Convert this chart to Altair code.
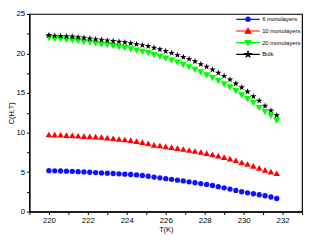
import altair as alt
import pandas as pd

T = [220.0, 220.3, 220.6, 220.9, 221.2, 221.5, 221.8, 222.1, 222.4, 222.7,
     223.0, 223.3, 223.6, 223.9, 224.2, 224.5, 224.8, 225.1, 225.4, 225.7,
     226.0, 226.3, 226.6, 226.9, 227.2, 227.5, 227.8, 228.1, 228.4, 228.7,
     229.0, 229.3, 229.6, 229.9, 230.2, 230.5, 230.8, 231.1, 231.4, 231.7]

mono6 = [5.18, 5.16, 5.14, 5.12, 5.10, 5.06, 5.02, 4.98, 4.94, 4.90,
         4.86, 4.82, 4.78, 4.74, 4.70, 4.64, 4.57, 4.47, 4.37, 4.27,
         4.17, 4.08, 3.98, 3.88, 3.77, 3.66, 3.55, 3.44, 3.31, 3.16,
         3.01, 2.85, 2.68, 2.51, 2.38, 2.26, 2.14, 2.01, 1.85, 1.66]

mono10 = [9.76, 9.74, 9.72, 9.68, 9.64, 9.60, 9.56, 9.52, 9.48, 9.44,
          9.36, 9.28, 9.20, 9.12, 9.04, 8.92, 8.80, 8.64, 8.45, 8.36,
          8.26, 8.15, 8.04, 7.92, 7.80, 7.67, 7.54, 7.40, 7.25, 7.08,
          6.90, 6.70, 6.48, 6.25, 6.02, 5.78, 5.54, 5.29, 5.06, 4.85]

mono20 = [21.93, 21.85, 21.81, 21.73, 21.65, 21.57, 21.45, 21.37, 21.25, 21.13,
          21.05, 20.93, 20.81, 20.69, 20.53, 20.36, 20.20, 20.05, 19.80, 19.60,
          19.35, 19.10, 18.85, 18.55, 18.25, 17.92, 17.60, 17.24, 16.88, 16.51,
          16.11, 15.71, 15.23, 14.71, 14.23, 13.71, 13.10, 12.58, 12.10, 11.49]

bulk = [22.33, 22.25, 22.21, 22.17, 22.13, 22.05, 21.97, 21.89, 21.81, 21.73,
        21.65, 21.57, 21.49, 21.41, 21.29, 21.17, 21.05, 20.93, 20.72, 20.52,
        20.30, 20.06, 19.80, 19.55, 19.30, 19.00, 18.64, 18.32, 17.96, 17.55,
        17.15, 16.71, 16.19, 15.71, 15.18, 14.58, 14.02, 13.38, 12.78, 12.17]

series_names = ["6 monolayers", "10 monolayers", "20 monolayers", "Bulk"]
series_colors = ["#1010ff", "#ff0000", "#00ff00", "#000000"]
series_sizes = [30, 45, 55, 50]

x_ticks = list(range(219, 234))
y_ticks = [0, 2.5, 5, 7.5, 10, 12.5, 15, 17.5, 20, 22.5, 25]

STAR = ("M0,-1L0.2245,-0.309L0.9511,-0.309L0.3633,0.118L0.5878,0.809L0,0.382"
        "L-0.5878,0.809L-0.3633,0.118L-0.9511,-0.309L-0.2245,-0.309Z")
data_shapes = ["circle", "triangle-up", "triangle-down", STAR]

LINE = "M-2.2,0H2.2"
legend_shapes = [
    LINE + "M0.4,0A0.4,0.4,0,1,1,-0.4,0A0.4,0.4,0,1,1,0.4,0Z",
    LINE + "M0,-0.5L0.52,0.4L-0.52,0.4Z",
    LINE + "M0,0.5L0.52,-0.4L-0.52,-0.4Z",
    LINE + ("M0,-0.55L0.124,-0.17L0.523,-0.17L0.2,0.065L0.323,0.445L0,0.21"
            "L-0.323,0.445L-0.2,0.065L-0.523,-0.17L-0.124,-0.17Z"),
]

rows = []
for name, vals in zip(series_names, [mono6, mono10, mono20, bulk]):
    for t, v in zip(T, vals):
        rows.append({"T": t, "C": v, "series": name})
df = pd.DataFrame(rows)

FONT = "Liberation Sans"

x_enc = alt.X("T:Q", scale=alt.Scale(domain=[219, 233], nice=False, zero=False),
              axis=alt.Axis(values=x_ticks, format="d",
                            labelExpr="datum.value % 2 == 0 ? datum.label : ''",
                            title="T(K)", titleY=18, titleBaseline="middle"))
y_enc = alt.Y("C:Q", scale=alt.Scale(domain=[0, 25], nice=False),
              axis=alt.Axis(values=y_ticks, format="d",
                            labelExpr="datum.value % 5 == 0 ? datum.label : ''",
                            title="C(H,T)", titleX=-18, titleBaseline="middle"))

base = alt.Chart(df)
layers = []
for name, col, shp, sz in zip(series_names, series_colors, data_shapes, series_sizes):
    layers.append(
        base.transform_filter(alt.datum.series == name)
        .mark_point(filled=True, opacity=1, strokeWidth=0, shape=shp, size=sz, color=col)
        .encode(x=x_enc, y=y_enc)
    )

leg = alt.Legend(title=None, orient="none", legendX=218, legendY=-1,
                 symbolSize=121, symbolStrokeWidth=1.2, labelFontSize=6,
                 labelFont=FONT, labelColor="#000", labelOffset=8,
                 rowPadding=0, padding=0)

legend_layer = base.transform_filter("false").mark_point(filled=True, opacity=1).encode(
    fill=alt.Fill("series:N", scale=alt.Scale(domain=series_names, range=series_colors), legend=leg),
    stroke=alt.Stroke("series:N", scale=alt.Scale(domain=series_names, range=series_colors), legend=leg),
    shape=alt.Shape("series:N", scale=alt.Scale(domain=series_names, range=legend_shapes), legend=leg),
)

chart = alt.layer(*layers, legend_layer).properties(
    width=280, height=203,
    autosize=alt.AutoSizeParams(type="none"),
    padding={"left": 22, "top": 3, "right": 2, "bottom": 26},
).configure_view(
    stroke="#000", strokeWidth=1.2
).configure_axis(
    grid=False, domainColor="#000", domainWidth=1.2, tickColor="#000",
    tickSize=3, tickWidth=1, labelFont=FONT, labelFontSize=8, labelColor="#000",
    labelPadding=2, titleFont=FONT, titleFontSize=7.5, titleFontWeight="normal",
    titleColor="#000", labelFlush=False, labelOverlap=False
)

chart.save("out.html", embed_options={"renderer": "svg", "actions": False})
